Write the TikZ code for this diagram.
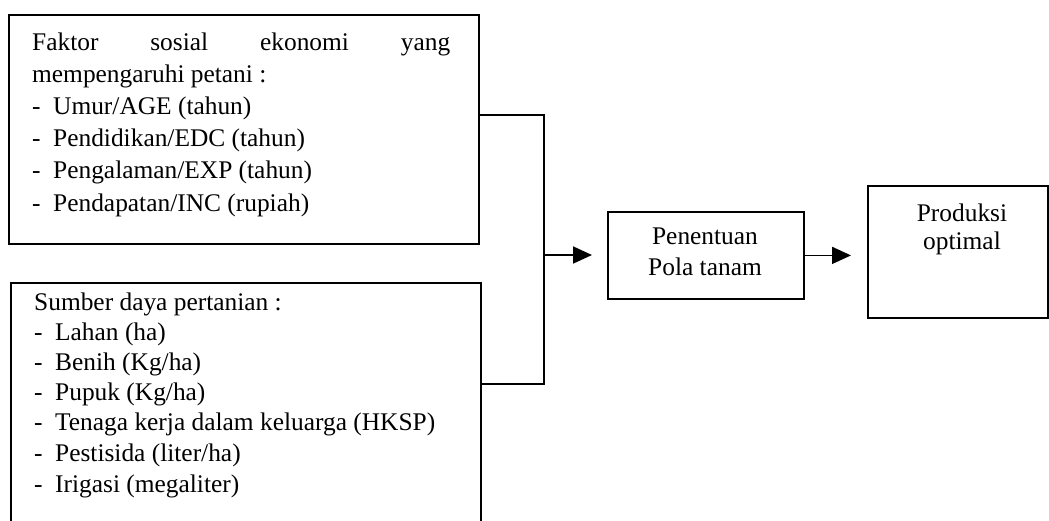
\documentclass[tikz,border=0pt]{standalone}
\usepackage{fontspec}
\setmainfont{Liberation Serif}
\usetikzlibrary{arrows.meta}
\tikzset{
  box/.style={draw, line width=1.8pt, inner sep=0pt, anchor=north west},
  txt/.style={inner sep=0pt, anchor=base west, font=\fontsize{25.4}{30}\selectfont},
  ctxt/.style={inner sep=0pt, anchor=base, font=\fontsize{25.4}{30}\selectfont},
  conn/.style={line width=1.8pt},
  arr/.style={line width=1.8pt, -{Triangle[length=19pt,width=17pt]}},
}
\newcommand{\itm}[1]{\makebox[21pt][l]{-}#1}
\begin{document}
\begin{tikzpicture}[x=1pt,y=-1pt]
\useasboundingbox (0,0) rectangle (1049,520);
% boxes
\node[box, minimum width=470pt, minimum height=229pt] (b1) at (8,14) {};
\node[box, minimum width=470pt, minimum height=240pt] (b2) at (10,282) {};
\node[box, minimum width=196pt, minimum height=87pt] (pen) at (607,211) {};
\node[box, minimum width=180pt, minimum height=132pt] (prod) at (867,185) {};
% box 1 text
\node[txt] (t1a) at (32,50) {\hbox to 418pt{Faktor\hfill sosial\hfill ekonomi\hfill yang}};
\node[txt] (t1b) at (32,82) {mempengaruhi petani :};
\node[txt] (t1c) at (32,114) {\itm{Umur/AGE (tahun)}};
\node[txt] (t1d) at (32,146) {\itm{Pendidikan/EDC (tahun)}};
\node[txt] (t1e) at (32,178) {\itm{Pengalaman/EXP (tahun)}};
\node[txt] (t1f) at (32,211) {\itm{Pendapatan/INC (rupiah)}};
% box 2 text
\node[txt] (t2a) at (34,310) {Sumber daya pertanian :};
\node[txt] (t2b) at (34,340) {\itm{Lahan (ha)}};
\node[txt] (t2c) at (34,370) {\itm{Benih (Kg/ha)}};
\node[txt] (t2d) at (34,400) {\itm{Pupuk (Kg/ha)}};
\node[txt] (t2e) at (34,430) {\itm{Tenaga kerja dalam keluarga (HKSP)}};
\node[txt] (t2f) at (34,461) {\itm{Pestisida (liter/ha)}};
\node[txt] (t2g) at (34,492) {\itm{Irigasi (megaliter)}};
% middle and right text
\node[ctxt] (p1) at (705,244) {Penentuan};
\node[ctxt] (p2) at (705,275) {Pola tanam};
\node[ctxt] (q1) at (962,221) {Produksi};
\node[ctxt] (q2) at (962,249) {optimal};
% connectors
\coordinate (j1) at (544,115);
\coordinate (j2) at (544,384);
\coordinate (jm) at (544,255);
\draw[conn] (j1 -| b1.east) -- (j1) -- (j2) -- (j2 -| b2.east);
\draw[arr, shorten >=15pt] (jm) -- (jm -| pen.west);
\draw[arr, shorten >=16pt] (pen.east) -- (pen.east -| prod.west);
\end{tikzpicture}
\end{document}
